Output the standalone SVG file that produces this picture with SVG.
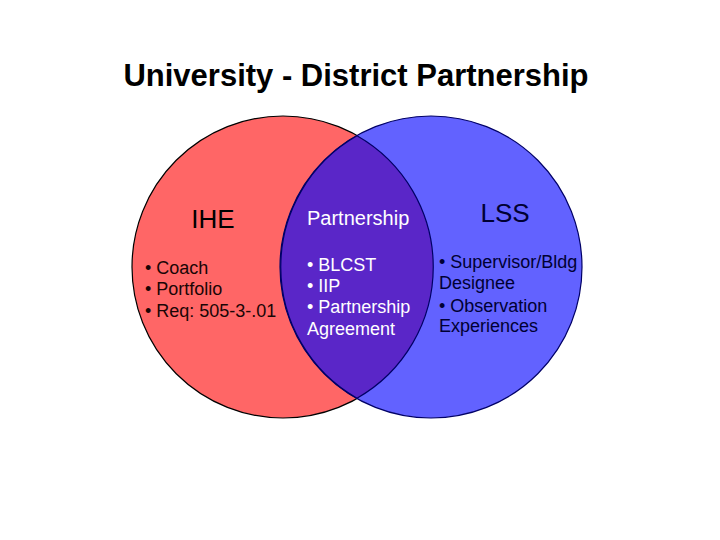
<svg xmlns="http://www.w3.org/2000/svg" width="720" height="540" viewBox="0 0 720 540">
<style>
text{font-family:"Liberation Sans",Arial,sans-serif}
.title{font-size:31px;font-weight:bold;fill:#000}
.head{font-size:26px}
.item{font-size:18px}
.red{fill:#ff6666;stroke:#000;stroke-width:1.2}
.blue{fill:#6262ff;stroke:#000066;stroke-width:1.2}
.lens{fill:#5a26c8;stroke:#000066;stroke-width:1.2}
</style>
<rect width="720" height="540" fill="#fff"/>
<text class="title" x="356" y="86" text-anchor="middle">University - District Partnership</text>
<g id="ihe">
<circle class="red" cx="283" cy="267" r="151"/>
</g>
<g id="lss">
<circle class="blue" cx="431" cy="267" r="151"/>
</g>
<g id="partnership">
<path class="lens" d="M357 135.8 A151 151 0 0 1 357 398.2 A151 151 0 0 1 357 135.8 Z"/>
</g>
<g id="ihe-text" fill="#1a0505">
<text class="head" x="213" y="228" text-anchor="middle" fill="#000">IHE</text>
<text class="item" x="145" y="274">• Coach</text>
<text class="item" x="145" y="295">• Portfolio</text>
<text class="item" x="145" y="317">• Req: 505-3-.01</text>
</g>
<g id="partnership-text" fill="#fff">
<text x="307" y="225" font-size="20">Partnership</text>
<text class="item" x="307" y="271">• BLCST</text>
<text class="item" x="307" y="292">• IIP</text>
<text class="item" x="307" y="313">• Partnership</text>
<text class="item" x="307" y="335">Agreement</text>
</g>
<g id="lss-text" fill="#000033">
<text class="head" x="505" y="222" text-anchor="middle">LSS</text>
<text class="item" x="439" y="268">• Supervisor/Bldg</text>
<text class="item" x="439" y="289">Designee</text>
<text class="item" x="439" y="312">• Observation</text>
<text class="item" x="439" y="332">Experiences</text>
</g>
<g id="connectors"></g>
</svg>
